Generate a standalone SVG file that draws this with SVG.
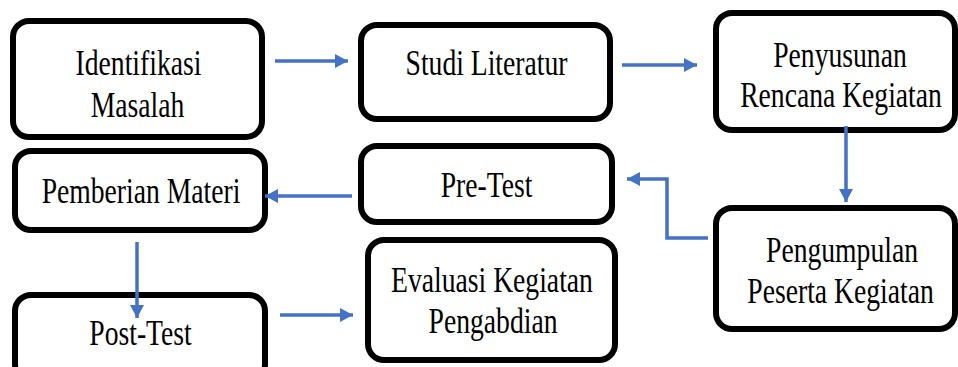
<svg xmlns="http://www.w3.org/2000/svg" width="958" height="367" viewBox="0 0 958 367">
<defs>
<style>
.box{fill:#fff;stroke:#000;stroke-width:6}
.t{font-family:"Liberation Serif","Times New Roman",serif;font-size:35px;fill:#000;text-anchor:middle}
.c{fill:none;stroke:#4472C4;stroke-width:3.5}
</style>
<marker id="ah" markerUnits="userSpaceOnUse" markerWidth="14" markerHeight="14" refX="13" refY="7" orient="auto">
<path d="M0,0 L13,7 L0,14 z" fill="#4472C4"/>
</marker>
</defs>
<rect width="958" height="367" fill="#fff"/>
<g id="identifikasi">
<rect class="box" x="13" y="21" width="249" height="116" rx="16"/>
<text class="t" transform="translate(138.5,75) scale(0.79,1)">Identifikasi</text>
<text class="t" transform="translate(137.5,117) scale(0.79,1)">Masalah</text>
</g>
<g id="studi">
<rect class="box" x="361" y="25" width="249" height="94" rx="16"/>
<text class="t" transform="translate(486.5,75) scale(0.79,1)">Studi Literatur</text>
</g>
<g id="penyusunan">
<rect class="box" x="716" y="13" width="239" height="117" rx="16"/>
<text class="t" transform="translate(840,67) scale(0.79,1)">Penyusunan</text>
<text class="t" transform="translate(841,107) scale(0.79,1)">Rencana Kegiatan</text>
</g>
<g id="pemberian">
<rect class="box" x="15" y="151" width="250" height="79" rx="16"/>
<text class="t" transform="translate(141,203) scale(0.79,1)">Pemberian Materi</text>
</g>
<g id="pretest">
<rect class="box" x="361" y="146" width="251" height="76" rx="16"/>
<text class="t" transform="translate(486.5,197) scale(0.79,1)">Pre-Test</text>
</g>
<g id="pengumpulan">
<rect class="box" x="716" y="208" width="239" height="121" rx="16"/>
<text class="t" transform="translate(842,262) scale(0.79,1)">Pengumpulan</text>
<text class="t" transform="translate(840.5,303) scale(0.79,1)">Peserta Kegiatan</text>
</g>
<g id="posttest">
<rect class="box" x="15" y="295" width="250" height="85" rx="16"/>
<text class="t" transform="translate(140.5,345) scale(0.79,1)">Post-Test</text>
</g>
<g id="evaluasi">
<rect class="box" x="368" y="240" width="247" height="120" rx="16"/>
<text class="t" transform="translate(492,292) scale(0.79,1)">Evaluasi Kegiatan</text>
<text class="t" transform="translate(493,333) scale(0.79,1)">Pengabdian</text>
</g>
<g id="connectors">
<line class="c" x1="275" y1="61" x2="348" y2="61" marker-end="url(#ah)"/>
<line class="c" x1="622" y1="65" x2="697" y2="65" marker-end="url(#ah)"/>
<line class="c" x1="846" y1="126" x2="846" y2="202" marker-end="url(#ah)"/>
<path class="c" d="M708,238 H667 V179 H627" marker-end="url(#ah)"/>
<line class="c" x1="352" y1="196" x2="265" y2="196" marker-end="url(#ah)"/>
<line class="c" x1="137" y1="242" x2="137" y2="318" marker-end="url(#ah)"/>
<line class="c" x1="280" y1="315" x2="353" y2="315" marker-end="url(#ah)"/>
</g>
</svg>
